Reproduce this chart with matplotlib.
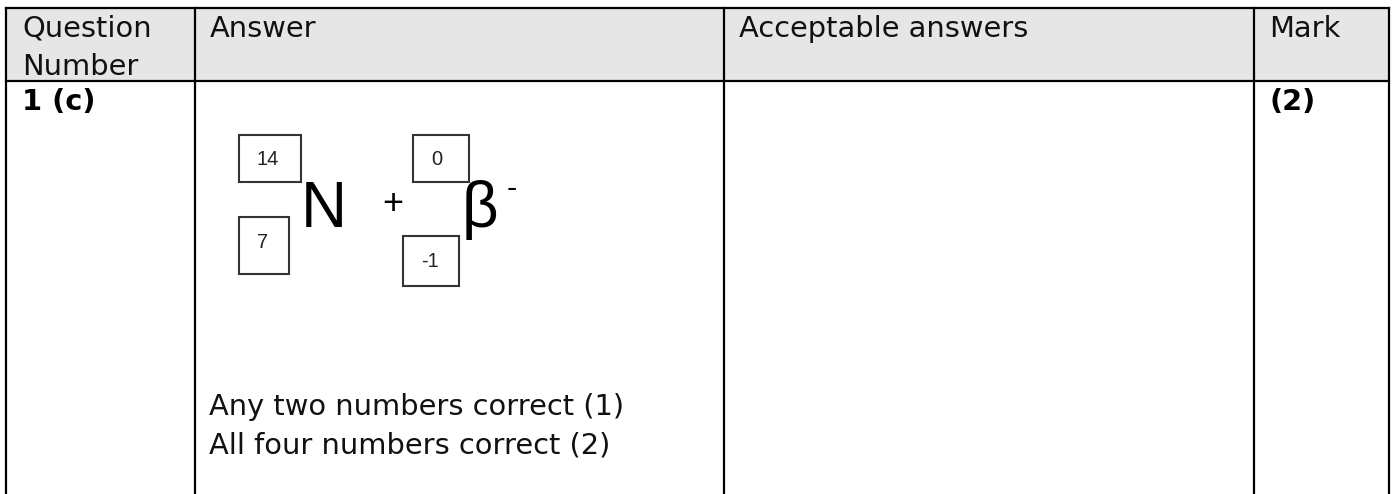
import matplotlib
matplotlib.use("Agg")
import matplotlib.pyplot as plt
from matplotlib.patches import Rectangle

# ---- content ----
header_labels = ["Question\nNumber", "Answer", "Acceptable answers", "Mark"]
question_number = "1 (c)"
mark_text = "(2)"
answer_lines = ["Any two numbers correct (1)", "All four numbers correct (2)"]
symbols = ["N", "β"]
mass_numbers = ["14", "0"]
atomic_numbers = ["7", "-1"]
plus_sign = "+"
beta_charge = "-"

# ---- layout (pixels) ----
W, H = 1392, 494
col_edges = [6, 195, 724, 1254, 1389]
top_y, header_bottom = 8, 81
header_bg = "#e6e6e6"
text_pad = 15
font_main = "DejaVu Sans"
fs_main = 20.8

fig = plt.figure(figsize=(W / 100, H / 100), dpi=100)
ax = fig.add_axes([0, 0, 1, 1])
ax.set_xlim(0, W)
ax.set_ylim(H, 0)
ax.axis("off")

# header background
ax.add_patch(Rectangle((col_edges[0], top_y), col_edges[-1] - col_edges[0],
                       header_bottom - top_y, facecolor=header_bg, edgecolor="none", zorder=0))

lw = 1.6
ax.plot([col_edges[0], col_edges[-1]], [top_y, top_y], color="black", lw=lw, solid_capstyle="projecting")
ax.plot([col_edges[0], col_edges[-1]], [header_bottom, header_bottom], color="black", lw=lw)
for x in col_edges:
    ax.plot([x, x], [top_y, H + 5], color="black", lw=lw, solid_capstyle="projecting")

# header texts
header_baselines = [37, 75]
for i, lab in enumerate(header_labels):
    for j, line in enumerate(lab.split("\n")):
        ax.text(col_edges[i] + text_pad + (1 if i == 0 else 0), header_baselines[j], line,
                fontsize=fs_main, family=font_main, ha="left", va="baseline", color="#111111")

# row texts
row_baseline = 110
ax.text(col_edges[0] + text_pad + 1, row_baseline, question_number, fontsize=fs_main,
        family=font_main, fontweight="bold", ha="left", va="baseline")
ax.text(col_edges[3] + text_pad, row_baseline, mark_text, fontsize=fs_main,
        family=font_main, fontweight="bold", ha="left", va="baseline")

answer_baselines = [415, 453]
for y, line in zip(answer_baselines, answer_lines):
    ax.text(209, y, line, fontsize=fs_main, family=font_main, ha="left", va="baseline", color="#111111")

# nuclear notation
sym_font = "Liberation Sans"
sym_fs = 46
sym_x = [301, 462]
sym_baseline = 227
for x, s in zip(sym_x, symbols):
    ax.text(x, sym_baseline, s, fontsize=sym_fs, family=sym_font, ha="left", va="baseline", color="black")
ax.text(393, 214, plus_sign, fontsize=26, family=sym_font, ha="center", va="baseline", color="black")
ax.text(512, 197, beta_charge, fontsize=22, family=sym_font, ha="center", va="baseline", color="black")

# boxes for numbers
mass_boxes = [(239, 135, 62, 47), (413, 135, 56, 47)]
atomic_boxes = [(239, 217, 50, 57), (403, 236, 56, 50)]
box_fs = 14.5
for (bx, by, bw, bh), t in zip(mass_boxes, mass_numbers):
    ax.add_patch(Rectangle((bx, by), bw, bh, facecolor="white", edgecolor="#333333", lw=1.5))
    ax.text(bx + 18, by + 30, t, fontsize=box_fs, family=sym_font, ha="left", va="baseline", color="#222222")
for (bx, by, bw, bh), t in zip(atomic_boxes, atomic_numbers):
    ax.add_patch(Rectangle((bx, by), bw, bh, facecolor="white", edgecolor="#333333", lw=1.5))
    ax.text(bx + 18, by + 31, t, fontsize=box_fs, family=sym_font, ha="left", va="baseline", color="#222222")

fig.savefig("out.png", dpi=100)
